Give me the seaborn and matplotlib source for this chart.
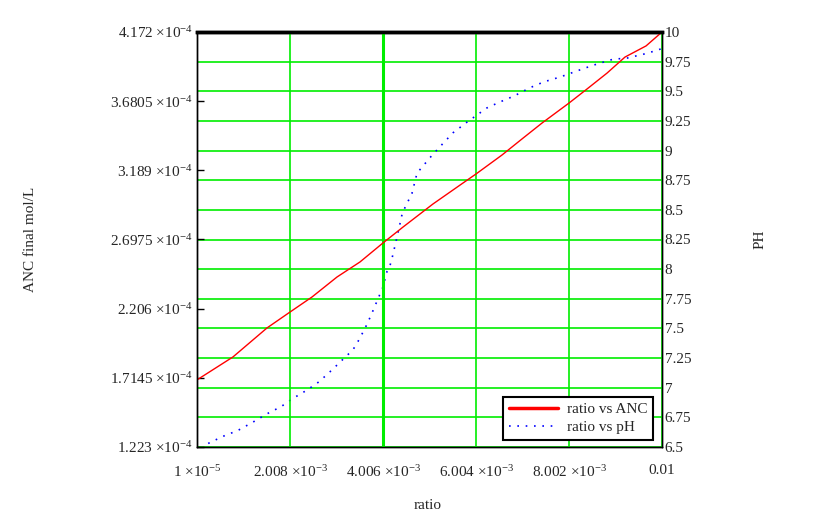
import matplotlib
matplotlib.use("Agg")
import matplotlib.pyplot as plt
import seaborn as sns
import pandas as pd

# ratio vs ANC (mol/L)
anc_ratio = [0.00001, 0.000783, 0.001514, 0.002008, 0.002481, 0.003018, 0.003512,
             0.004006, 0.004436, 0.004801, 0.005080, 0.005725, 0.006004, 0.006563,
             0.006992, 0.007422, 0.008002, 0.008389, 0.008819, 0.009205, 0.009657, 0.01]
anc_vals = [1.700, 1.863, 2.069, 2.182, 2.289, 2.431, 2.538,
            2.673, 2.786, 2.879, 2.950, 3.099, 3.163, 3.298,
            3.412, 3.525, 3.667, 3.767, 3.880, 3.994, 4.073, 4.172]
anc_vals = [v * 1e-4 for v in anc_vals]

# ratio vs pH
ph_ratio = [0.00025, 0.000569, 0.000891, 0.001213, 0.001514, 0.001815, 0.002072,
            0.002373, 0.002631, 0.002910, 0.003147, 0.003361, 0.003469, 0.003619,
            0.003748, 0.003877, 0.004006, 0.004092, 0.004156, 0.004199, 0.004307,
            0.004414, 0.004479, 0.004629, 0.004737, 0.005059, 0.005295, 0.005510,
            0.005811, 0.006240, 0.006519, 0.006820, 0.007164, 0.007465, 0.007809,
            0.008303, 0.008604, 0.008947, 0.009248, 0.009678, 0.01]
ph_vals = [6.53, 6.59, 6.64, 6.71, 6.78, 6.84, 6.91,
           6.98, 7.05, 7.15, 7.24, 7.32, 7.39, 7.50,
           7.61, 7.73, 7.85, 7.98, 8.03, 8.09, 8.27,
           8.46, 8.52, 8.64, 8.81, 8.96, 9.06, 9.15,
           9.24, 9.36, 9.41, 9.46, 9.53, 9.58, 9.62,
           9.69, 9.73, 9.77, 9.78, 9.82, 9.86]

x_ticks = [0.00001, 0.002008, 0.004006, 0.006004, 0.008002, 0.01]
x_labels = [r"1 $\times$10$^{-5}$", r"2.008 $\times$10$^{-3}$", r"4.006 $\times$10$^{-3}$",
            r"6.004 $\times$10$^{-3}$", r"8.002 $\times$10$^{-3}$", "0.01"]
y_ticks = [1.223e-4, 1.7145e-4, 2.206e-4, 2.6975e-4, 3.189e-4, 3.6805e-4, 4.172e-4]
y_labels = [r"1.223 $\times$10$^{-4}$", r"1.7145 $\times$10$^{-4}$", r"2.206 $\times$10$^{-4}$",
            r"2.6975 $\times$10$^{-4}$", r"3.189 $\times$10$^{-4}$", r"3.6805 $\times$10$^{-4}$",
            r"4.172 $\times$10$^{-4}$"]
ph_ticks = [6.5, 6.75, 7, 7.25, 7.5, 7.75, 8, 8.25, 8.5, 8.75, 9, 9.25, 9.5, 9.75, 10]
ph_labels = ["6.5", "6.75", "7", "7.25", "7.5", "7.75", "8", "8.25", "8.5", "8.75",
             "9", "9.25", "9.5", "9.75", "10"]

sns.set_style("white")
plt.rcParams["font.family"] = ["Liberation Serif", "DejaVu Serif"]
plt.rcParams["mathtext.fontset"] = "custom"
plt.rcParams["mathtext.rm"] = "Liberation Serif"
plt.rcParams["mathtext.it"] = "Liberation Serif:italic"
plt.rcParams["mathtext.bf"] = "Liberation Serif:bold"

fs = 11
green = "#00ee00"
fig = plt.figure(figsize=(8.4, 5.25), dpi=100)
ax = fig.add_axes([197 / 840, 78 / 525, 465 / 840, 415 / 525])
ax2 = ax.twinx()
ax.set_zorder(ax2.get_zorder() + 1)
ax.patch.set_visible(False)

df_anc = pd.DataFrame({"ratio": anc_ratio, "ANC": anc_vals})
df_ph = pd.DataFrame({"ratio": ph_ratio, "pH": ph_vals})

sns.lineplot(data=df_ph, x="ratio", y="pH", ax=ax2, color="blue", linewidth=1.2,
             linestyle=(0, (1, 4)), label="ratio vs pH", legend=False)
sns.lineplot(data=df_anc, x="ratio", y="ANC", ax=ax, color="red", linewidth=1,
             label="ratio vs ANC", legend=False)

ax.set_xlim(0.00001, 0.01)
ax.set_ylim(1.223e-4, 4.172e-4)
ax2.set_ylim(6.5, 10)

ax.set_xticks(x_ticks)
ax.set_xticklabels(x_labels, fontsize=fs)
ax.set_yticks(y_ticks)
ax.set_yticklabels(y_labels, fontsize=fs)
ax2.set_yticks(ph_ticks)
ax2.set_yticklabels(ph_labels, fontsize=fs)

ax.tick_params(axis="x", length=0, pad=12)
ax.tick_params(axis="y", direction="in", length=5, width=1, pad=3, color="black")
ax2.tick_params(axis="y", length=0, pad=2)

# vertical grid from x ticks, horizontal grid from pH ticks
ax.grid(axis="x", color=green, linewidth=1.2)
ax.grid(axis="y", visible=False)
ax2.grid(axis="y", color=green, linewidth=1.2)
ax2.grid(axis="x", visible=False)
ax.get_xgridlines()[2].set_linewidth(2.2)

for a in (ax, ax2):
    for s in a.spines.values():
        s.set_color("black")
        s.set_linewidth(1)
ax.spines["top"].set_linewidth(2.5)
ax2.spines["top"].set_linewidth(2.5)

ax.set_xlabel("ratio", fontsize=fs)
ax.xaxis.set_label_coords(0.495, -0.125)
ax.set_ylabel("ANC final mol/L", fontsize=fs)
ax.yaxis.set_label_coords(-0.345, 0.5)
ax2.set_ylabel("PH", fontsize=fs)
ax2.yaxis.set_label_coords(1.197, 0.5)

h1, l1 = ax.get_legend_handles_labels()
h2, l2 = ax2.get_legend_handles_labels()
leg = ax.legend(h1 + h2, l1 + l2, loc="lower right", bbox_to_anchor=(0.98, 0.018),
                fontsize=fs, frameon=True, fancybox=False, borderpad=0.35,
                handlelength=3.2, handletextpad=0.6, labelspacing=0.3,
                borderaxespad=0)
leg.get_frame().set_edgecolor("black")
leg.get_frame().set_linewidth(1.5)
leg.get_frame().set_alpha(1)
leg.get_lines()[0].set_linewidth(2.5)

fig.savefig("out.png", dpi=100)
